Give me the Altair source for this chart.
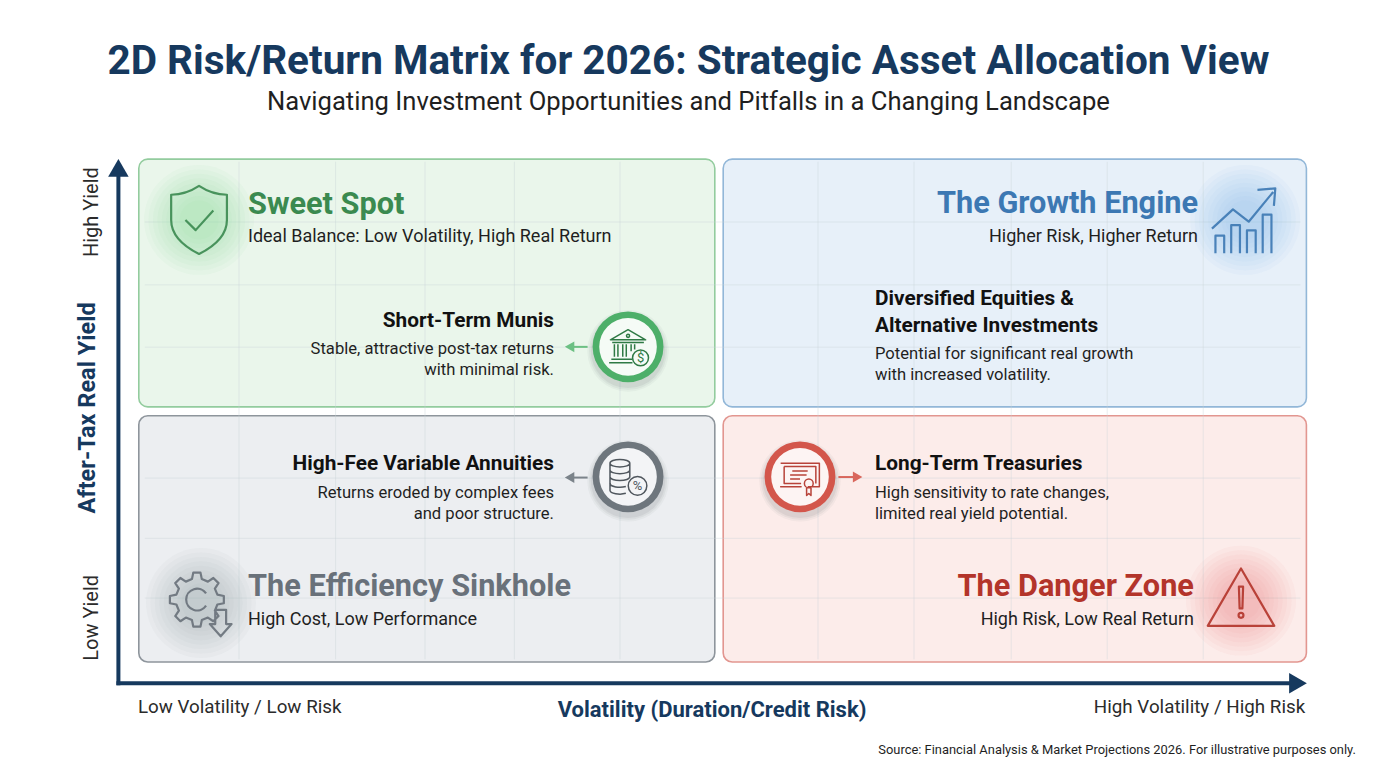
import math
import pandas as pd
import altair as alt

FONT = "Roboto"
NAVY = "#16395e"
INK = "#1f1f1f"

# x = volatility score, y = after-tax real yield score; the matrix itself spans 0..100
XS = alt.Scale(domain=[-9.2, 103.8], nice=False, zero=False)
YS = alt.Scale(domain=[-14.39, 130], nice=False, zero=False)

# ---------------- quadrants ----------------
quad_names = ["Sweet Spot", "The Growth Engine", "The Efficiency Sinkhole", "The Danger Zone"]
quad_taglines = ["Ideal Balance: Low Volatility, High Real Return", "Higher Risk, Higher Return",
                 "High Cost, Low Performance", "High Risk, Low Real Return"]
quad_x0 = [1.7, 50.4, 1.7, 50.4]
quad_x1 = [49.7, 99.0, 49.7, 99.0]
quad_y0 = [53.2, 53.2, 4.1, 4.1]
quad_y1 = [100.9, 100.9, 51.5, 51.5]
quad_label_x = [10.8, 89.97, 10.8, 89.63]
quad_label_y = [92.1, 92.3, 18.5, 18.5]
quad_tag_y = [85.9, 85.9, 12.2, 12.2]
quad_align = ["left", "right", "left", "right"]
quad_icon_x = [6.72, 93.9, 6.88, 93.55]
quad_icon_y = [89.2, 89.2, 15.45, 15.9]
quad_ink = ["#3b8a50", "#3c78b3", "#69717a", "#b3342a"]
quad_fill = ["#eaf6eb", "#e7f0f9", "#eceef1", "#fcecea"]
quad_edge = ["#93cc9e", "#92b7d8", "#8e959c", "#e29690"]
quad_glow = ["#7fcf92", "#7fb6ec", "#9099a3", "#f5776c"]

# ---------------- assets ----------------
asset_names = ["Short-Term Munis", "Diversified Equities &\nAlternative Investments",
               "High-Fee Variable Annuities", "Long-Term Treasuries"]
asset_notes = ["Stable, attractive post-tax returns\nwith minimal risk.",
               "Potential for significant real growth\nwith increased volatility.",
               "Returns eroded by complex fees\nand poor structure.",
               "High sensitivity to rate changes,\nlimited real yield potential."]
asset_x = [36.3, 63.05, 36.3, 63.05]
asset_y = [69.75, 74.0, 42.2, 42.2]
asset_note_y = [64.4, 63.4, 36.6, 36.6]
asset_align = ["right", "left", "right", "left"]

badge_x = [42.47, 42.47, 56.8]
badge_y = [64.76, 39.74, 39.74]
badge_ring = ["#4daf69", "#6e767d", "#d3564b"]
badge_face = ["#f5fbf6", "#f3f4f6", "#fdf4f3"]
badge_icon_ink = ["#2f7a45", "#4f565d", "#b8433a"]
pointer_x0 = [39.1, 39.1, 60.0]
pointer_x1 = [37.6, 37.6, 61.6]
pointer_y = [64.76, 39.6, 39.7]
pointer_shape = ["triangle-left", "triangle-left", "triangle-right"]
pointer_color = ["#6cc083", "#7b838a", "#d9665c"]

# faint background grid inside the matrix
grid_x = [10.05, 18.1, 25.55, 33.0, 41.8, 58.3, 66.3, 74.4, 82.4, 90.4]
grid_y = [88.8, 76.7, 64.7, 39.5, 27.9, 16.4]

# ---------------- icon outlines (unit box -1..1) ----------------
SHIELD = ("M0,-1 C0.3,-0.8 0.55,-0.74 0.82,-0.74 L0.82,0 C0.82,0.5 0.4,0.8 0,1 "
          "C-0.4,0.8 -0.82,0.5 -0.82,0 L-0.82,-0.74 C-0.55,-0.74 -0.3,-0.8 0,-1 Z "
          "M-0.4,0.0 L-0.1,0.3 L0.42,-0.28")
GROWTH = ("M-0.85,0.95 L-0.85,0.45 L-0.6,0.45 L-0.6,0.95 M-0.4,0.95 L-0.4,0.15 L-0.15,0.15 L-0.15,0.95 "
          "M0.05,0.95 L0.05,0.3 L0.3,0.3 L0.3,0.95 M0.5,0.95 L0.5,-0.15 L0.75,-0.15 L0.75,0.95 "
          "M-0.95,0.25 L-0.35,-0.3 L0.1,0.05 L0.8,-0.8 M0.35,-0.86 L0.86,-0.9 L0.82,-0.4")
WARNING = ("M0,-0.92 L0.95,0.72 L-0.95,0.72 Z M-0.06,-0.4 L0.06,-0.4 L0.04,0.22 L-0.04,0.22 Z "
           "M-0.07,0.42 A0.07,0.07 0 1,0 0.07,0.42 A0.07,0.07 0 1,0 -0.07,0.42")


def gear_path(teeth=8, r_out=0.8, r_in=0.62, cx=-0.12, cy=-0.1):
    step = 2 * math.pi / teeth
    pts = []
    for i in range(teeth):
        for frac, r in ((-0.3, r_in), (-0.17, r_out), (0.17, r_out), (0.3, r_in)):
            t = i * step + frac * step
            pts.append((cx + r * math.cos(t), cy + r * math.sin(t)))
    d = "M" + " L".join(f"{x:.3f},{y:.3f}" for x, y in pts) + " Z"
    a, b = cx + 0.27, cy - 0.18
    c = cy + 0.18
    d += f" M{a:.3f},{b:.3f} A0.32,0.32 0 1,0 {a:.3f},{c:.3f}"
    d += " M0.42,0.2 L0.42,0.62 L0.26,0.62 L0.58,0.98 L0.9,0.62 L0.74,0.62 L0.74,0.2 Z"
    return d


BANK = ("M-0.8,-0.32 L0,-0.78 L0.8,-0.32 Z M-0.72,-0.2 L0.72,-0.2 "
        "M-0.07,-0.5 A0.07,0.07 0 1,0 0.07,-0.5 A0.07,0.07 0 1,0 -0.07,-0.5 "
        "M-0.62,-0.12 L-0.62,0.45 M-0.46,-0.12 L-0.46,0.45 M-0.24,-0.12 L-0.24,0.45 "
        "M-0.08,-0.12 L-0.08,0.45 M0.14,-0.12 L0.14,0.2 M0.3,-0.12 L0.3,0.12 "
        "M-0.76,0.56 L0.2,0.56 M-0.86,0.72 L0.2,0.72")
COINS = ("M-0.82,-0.62 A0.45,0.17 0 1,0 0.08,-0.62 A0.45,0.17 0 1,0 -0.82,-0.62 "
         "M-0.82,-0.62 L-0.82,0.62 M0.08,-0.62 L0.08,0.0 "
         "M-0.82,-0.31 A0.45,0.17 0 0,0 0.08,-0.31 M-0.82,0.0 A0.45,0.17 0 0,0 0.08,0.0 "
         "M-0.82,0.31 A0.45,0.17 0 0,0 -0.1,0.44 M-0.82,0.62 A0.45,0.17 0 0,0 -0.1,0.75")
CERT = ("M-0.88,-0.62 L0.88,-0.62 L0.88,0.45 L0.35,0.45 M0.05,0.45 L-0.88,0.45 Z "
        "M-0.72,-0.47 L0.72,-0.47 L0.72,0.3 M-0.72,-0.47 L-0.72,0.3 L0.05,0.3 "
        "M-0.35,-0.27 L0.35,-0.27 M-0.45,-0.08 L0.3,-0.08 M-0.45,0.1 L0.0,0.1 "
        "M0.2,0.3 A0.2,0.2 0 1,0 0.6,0.3 A0.2,0.2 0 1,0 0.2,0.3 "
        "M0.3,0.47 L0.3,0.85 L0.4,0.76 L0.5,0.85 L0.5,0.47")

quad_icon_path = [SHIELD, GROWTH, gear_path(), WARNING]
quad_icon_px = [68, 70, 68, 70]
badge_icon_path = [BANK, COINS, CERT]
# small coin drawn over the first two badge icons
coin_glyph = ["$", "%"]
coin_dx = [12.5, 9.5]
coin_dy = [11.0, 9.0]
coin_r = [9.0, 10.5]


def xy(**kw):
    return dict(x=alt.X("x:Q", scale=XS, axis=None), y=alt.Y("y:Q", scale=YS, axis=None), **kw)


def lines_frame(texts, xs, ys, aligns, colors, gap):
    rows = []
    for t, x, y, a, c in zip(texts, xs, ys, aligns, colors):
        for i, line in enumerate(t.split("\n")):
            rows.append({"text": line, "x": x, "y": y - i * gap, "align": a, "color": c})
    return pd.DataFrame(rows)


def text_layers(df, size, weight="normal", angle=0):
    out = []
    for a in ["left", "center", "right"]:
        sub = df[df["align"] == a]
        if len(sub) == 0:
            continue
        out.append(alt.Chart(sub).mark_text(align=a, baseline="middle", font=FONT, fontSize=size,
                                            fontWeight=weight, angle=angle)
                   .encode(**xy(text="text:N", color=alt.Color("color:N", scale=None))))
    return out


layers = []

# quadrant panels
quads = pd.DataFrame({"name": quad_names, "x": quad_x0, "x2": quad_x1, "y": quad_y0, "y2": quad_y1,
                      "fill": quad_fill, "edge": quad_edge})
layers.append(alt.Chart(quads).mark_rect(cornerRadius=9, strokeWidth=1.6).encode(
    **xy(x2="x2:Q", y2="y2:Q", fill=alt.Fill("fill:N", scale=None), stroke=alt.Stroke("edge:N", scale=None))))

# faint grid
gv = pd.DataFrame({"x": grid_x, "y": 4.6, "y2": 100.4})
gh = pd.DataFrame({"y": grid_y, "x": 2.2, "x2": 98.5})
layers.append(alt.Chart(gv).mark_rule(color="#c9d1d6", opacity=0.4, strokeWidth=1).encode(**xy(y2="y2:Q")))
layers.append(alt.Chart(gh).mark_rule(color="#c9d1d6", opacity=0.4, strokeWidth=1).encode(**xy(x2="x2:Q")))

# soft glows behind quadrant icons
glow = pd.DataFrame({"x": quad_icon_x, "y": quad_icon_y, "c": quad_glow})
for r in [62, 57, 52, 47, 42, 37, 32, 27, 22]:
    layers.append(alt.Chart(glow).mark_circle(size=math.pi * r * r, opacity=0.05).encode(
        **xy(color=alt.Color("c:N", scale=None))))

# quadrant icons
for px, path, ix, iy, c in zip(quad_icon_px, quad_icon_path, quad_icon_x, quad_icon_y, quad_ink):
    d = pd.DataFrame({"x": [ix], "y": [iy]})
    layers.append(alt.Chart(d).mark_point(shape=path, size=px * px, filled=False, strokeWidth=2.2,
                                          color=c, opacity=0.9, strokeJoin="round").encode(**xy()))

# badges
badges = pd.DataFrame({"x": badge_x, "y": badge_y, "ring": badge_ring, "face": badge_face})
for r, op in [(46, 0.06), (44, 0.08), (42, 0.1)]:
    layers.append(alt.Chart(badges).mark_circle(size=math.pi * r * r, color="#6b7075", opacity=op,
                                                yOffset=4).encode(**xy()))
layers.append(alt.Chart(badges).mark_circle(size=math.pi * 40 * 40, opacity=1).encode(
    **xy(color=alt.Color("ring:N", scale=None))))
layers.append(alt.Chart(badges).mark_circle(size=math.pi * 32.5 * 32.5, opacity=1).encode(
    **xy(color=alt.Color("face:N", scale=None))))
for i, (path, bx, by, c, face) in enumerate(zip(badge_icon_path, badge_x, badge_y, badge_icon_ink, badge_face)):
    d = pd.DataFrame({"x": [bx], "y": [by]})
    layers.append(alt.Chart(d).mark_point(shape=path, size=44 * 44, filled=False, strokeWidth=1.5,
                                          color=c, opacity=1, strokeJoin="round").encode(**xy()))
    if i < len(coin_glyph):
        d = d.assign(g=coin_glyph[i])
        layers.append(alt.Chart(d).mark_point(shape="circle", size=math.pi * coin_r[i] ** 2, fill=face,
                                              fillOpacity=1, stroke=c, strokeWidth=1.5, opacity=1,
                                              xOffset=coin_dx[i], yOffset=coin_dy[i]).encode(**xy()))
        layers.append(alt.Chart(d).mark_text(font=FONT, fontSize=13, color=c, dx=coin_dx[i],
                                             dy=coin_dy[i] + 0.5, baseline="middle").encode(**xy(text="g:N")))

# pointers from badges toward the asset text
ptr = pd.DataFrame({"x": pointer_x0, "x2": pointer_x1, "y": pointer_y, "c": pointer_color})
layers.append(alt.Chart(ptr).mark_rule(strokeWidth=2).encode(
    **xy(x2="x2:Q", color=alt.Color("c:N", scale=None))))
for x1, y, shp, c in zip(pointer_x1, pointer_y, pointer_shape, pointer_color):
    d = pd.DataFrame({"x": [x1], "y": [y]})
    layers.append(alt.Chart(d).mark_point(shape=shp, size=120, filled=True, color=c, opacity=1).encode(**xy()))

# quadrant headings and taglines
layers += text_layers(lines_frame(quad_names, quad_label_x, quad_label_y, quad_align, quad_ink, 0), 30.7, "bold")
layers += text_layers(lines_frame(quad_taglines, quad_label_x, quad_tag_y, quad_align, [INK] * 4, 0), 18)

# asset labels
layers += text_layers(lines_frame(asset_names, asset_x, asset_y, asset_align, ["#111111"] * 4, 5.2), 20.8, "bold")
layers += text_layers(lines_frame(asset_notes, asset_x, asset_note_y, asset_align, [INK] * 4, 4.1), 16.6)

# axes drawn as arrows
axis_lines = pd.DataFrame({"x": [0, 0], "y": [0, 0], "x2": [0, 97.6], "y2": [98.2, 0]})
layers.append(alt.Chart(axis_lines).mark_rule(color=NAVY, strokeWidth=4, strokeCap="square").encode(
    **xy(x2="x2:Q", y2="y2:Q")))
layers.append(alt.Chart(pd.DataFrame({"x": [0], "y": [99.2]})).mark_point(
    shape="triangle-up", size=420, filled=True, color=NAVY, opacity=1).encode(**xy()))
layers.append(alt.Chart(pd.DataFrame({"x": [98.3], "y": [0]})).mark_point(
    shape="triangle-right", size=420, filled=True, color=NAVY, opacity=1).encode(**xy()))

# axis texts
y_title = pd.DataFrame({"text": ["After-Tax Real Yield"], "x": [-2.53], "y": [53.0], "align": ["center"], "color": [NAVY]})
y_ends = pd.DataFrame({"text": ["High Yield", "Low Yield"], "x": [-2.2, -2.2], "y": [90.7, 12.6],
                       "align": ["center", "center"], "color": ["#2b2b2b", "#2b2b2b"]})
x_title = pd.DataFrame({"text": ["Volatility (Duration/Credit Risk)"], "x": [49.47], "y": [-5.14],
                        "align": ["center"], "color": [NAVY]})
x_ends = pd.DataFrame({"text": ["Low Volatility / Low Risk", "High Volatility / High Risk"], "x": [1.63, 98.9],
                       "y": [-4.56, -4.56], "align": ["left", "right"], "color": ["#2b2b2b", "#2b2b2b"]})
layers += text_layers(y_title, 23.5, "bold", angle=270)
layers += text_layers(y_ends, 20, angle=270)
layers += text_layers(x_title, 22, "bold")
layers += text_layers(x_ends, 18.8)

# title, subtitle, source
heads = pd.DataFrame({"text": ["2D Risk/Return Matrix for 2026: Strategic Asset Allocation View"],
                      "x": [47.5], "y": [119.7], "align": ["center"], "color": [NAVY]})
subs = pd.DataFrame({"text": ["Navigating Investment Opportunities and Pitfalls in a Changing Landscape"],
                     "x": [47.5], "y": [111.9], "align": ["center"], "color": [INK]})
src = pd.DataFrame({"text": ["Source: Financial Analysis & Market Projections 2026. For illustrative purposes only."],
                    "x": [103.13], "y": [-12.9], "align": ["right"], "color": [INK]})
layers += text_layers(heads, 40.5, "bold")
layers += text_layers(subs, 25.6)
layers += text_layers(src, 12.9)

chart = alt.layer(*layers).properties(
    width=1356, height=750, padding=0, autosize="none", background="white"
).configure_view(stroke=None)

chart.save("out.html", embed_options={"renderer": "svg", "actions": False})
